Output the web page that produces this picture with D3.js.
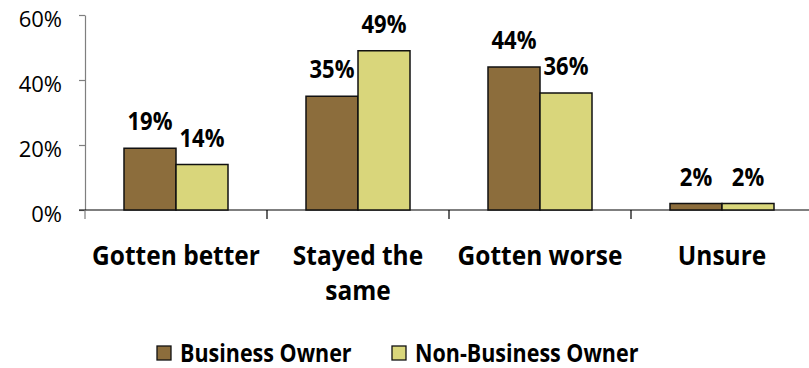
<!DOCTYPE html>
<html>
<head>
<meta charset="utf-8">
<script src="https://cdn.jsdelivr.net/npm/d3@7"></script>
<style>
  html, body { margin: 0; padding: 0; background: #fff; }
  svg { display: block; font-family: "Open Sans", "Noto Sans", sans-serif; }
</style>
</head>
<body>
<svg id="chart" width="809" height="368"></svg>
<script>
// Survey responses by group
const categories = ["Gotten better", "Stayed the same", "Gotten worse", "Unsure"];
const categoryLines = [["Gotten better"], ["Stayed the", "same"], ["Gotten worse"], ["Unsure"]];
const seriesNames = ["Business Owner", "Non-Business Owner"];
const businessOwner = [19, 35, 44, 2];
const nonBusinessOwner = [14, 49, 36, 2];
const yTicks = [0, 20, 40, 60];
const colors = ["#8C6D3C", "#D9D67B"];

const svg = d3.select("#chart");
const W = 809, H = 368;
const x0 = 85, x1 = 813;
const yTop = 15, yBot = 210;
const stretch = 1.12; // text is drawn slightly tall

const x = d3.scaleBand().domain(categories).range([x0, x1]).paddingInner(0).paddingOuter(0);
const inner = d3.scaleBand().domain(seriesNames).range([0, x.bandwidth()]).paddingInner(0).paddingOuter(0.75);
const y = d3.scaleLinear().domain([0, 60]).range([yBot, yTop]);

const rows = categories.map((c, i) => ({ cat: c, vals: [businessOwner[i], nonBusinessOwner[i]] }));

// y axis
const yAxis = svg.append("g").attr("transform", `translate(${x0},0)`)
  .call(d3.axisLeft(y).tickValues(yTicks).tickFormat(d => d + "%").tickSize(6).tickSizeOuter(0));
yAxis.select(".domain").attr("stroke", "#7f7f7f").attr("stroke-width", 1.2);
yAxis.selectAll(".tick line").attr("stroke", "#7f7f7f").attr("stroke-width", 1.2);
yAxis.selectAll(".tick text").attr("x", -23).attr("y", 11).attr("dy", null)
  .attr("font-size", 22).attr("fill", "#000")
  .attr("font-family", "'Open Sans', sans-serif");

// x axis
const xAxis = svg.append("g").attr("transform", `translate(0,${yBot})`);
xAxis.append("line").attr("x1", x0 - 6).attr("x2", x1).attr("y1", 0).attr("y2", 0)
  .attr("stroke", "#000").attr("stroke-width", 1.2);
xAxis.selectAll("line.tk").data(categories).join("line").attr("class", "tk")
  .attr("x1", d => x(d)).attr("x2", d => x(d)).attr("y1", 0).attr("y2", 9)
  .attr("stroke", (d, i) => i === 0 ? "#7f7f7f" : "#000").attr("stroke-width", 1.2);

// bars
const g = svg.append("g").selectAll("g").data(rows).join("g")
  .attr("transform", d => `translate(${x(d.cat)},0)`);
g.selectAll("rect").data(d => d.vals.map((v, j) => ({ v, j }))).join("rect")
  .attr("x", d => inner(seriesNames[d.j]))
  .attr("width", inner.bandwidth())
  .attr("y", d => y(d.v))
  .attr("height", d => y(0) - y(d.v))
  .attr("fill", d => colors[d.j])
  .attr("stroke", "#111").attr("stroke-width", 1.5);
g.selectAll("text").data(d => d.vals.map((v, j) => ({ v, j }))).join("text")
  .attr("transform", d => `translate(${inner(seriesNames[d.j]) + inner.bandwidth() / 2},${y(d.v) - 18}) scale(1,${stretch})`)
  .attr("text-anchor", "middle").attr("font-size", 22).attr("font-weight", 700)
  .text(d => d.v + "%");

// category labels
const cl = svg.append("g").selectAll("text").data(categories).join("text")
  .attr("transform", d => `translate(${x(d) + x.bandwidth() / 2},265) scale(1,${stretch})`)
  .attr("text-anchor", "middle").attr("font-size", 24.5).attr("font-weight", 700);
cl.selectAll("tspan").data((d, i) => categoryLines[i]).join("tspan")
  .attr("x", 0)
  .attr("dy", (d, i) => i === 0 ? 0 : 35 / stretch)
  .text(d => d);

// legend
const legendX = [157, 392];
const lg = svg.append("g").selectAll("g").data(seriesNames).join("g")
  .attr("transform", (d, i) => `translate(${legendX[i]},346)`);
lg.append("rect").attr("x", 0).attr("y", 0).attr("width", 14).attr("height", 14)
  .attr("fill", (d, i) => colors[i]).attr("stroke", "#111").attr("stroke-width", 1.3);
lg.append("text").attr("transform", `translate(23,15.5) scale(1,${stretch})`)
  .attr("font-size", 21.5).attr("font-weight", 700)
  .text(d => d);
</script>
</body>
</html>
